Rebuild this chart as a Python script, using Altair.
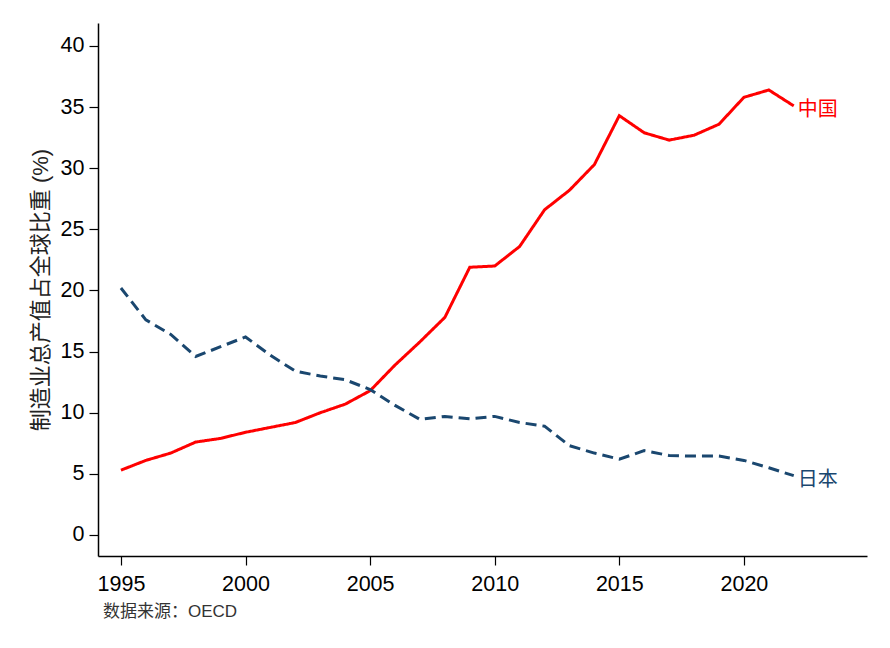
import altair as alt
import pandas as pd

years = list(range(1995, 2023))

china = [5.3, 6.1, 6.7, 7.6, 7.9, 8.4, 8.8, 9.2, 10.0, 10.7,
         11.8, 13.9, 15.8, 17.8, 21.9, 22.0, 23.6, 26.6, 28.2, 30.3,
         34.3, 32.9, 32.3, 32.7, 33.6, 35.8, 36.4, 35.1]

japan = [20.2, 17.6, 16.4, 14.6, 15.4, 16.2, 14.7, 13.4, 13.0, 12.7,
         11.9, 10.6, 9.45, 9.7, 9.5, 9.7, 9.2, 8.9, 7.3, 6.7,
         6.2, 6.9, 6.5, 6.45, 6.45, 6.1, 5.5, 4.85]

countries = ["中国", "日本"]
colors = ["#ff0000", "#1a476f"]

df = pd.DataFrame({
    "year": years * 2,
    "share": china + japan,
    "country": [countries[0]] * len(years) + [countries[1]] * len(years),
})
last = df[df["year"] == years[-1]]

font = "Liberation Sans"
cjk = "Noto Sans CJK SC"
mixed = "Liberation Sans, Noto Sans CJK SC"

x = alt.X("year:Q",
          scale=alt.Scale(domain=[1994.08, 2024.94], nice=False, zero=False),
          axis=alt.Axis(values=[1995, 2000, 2005, 2010, 2015, 2020], format="d",
                        title=None, grid=False, domainColor="black", tickColor="black",
                        tickSize=9, labelPadding=8, labelFontSize=21.5, labelFont=font,
                        labelColor="black", domainWidth=1.5, tickWidth=1.2))
y = alt.Y("share:Q",
          scale=alt.Scale(domain=[-1.72, 41.88], nice=False, zero=False),
          axis=alt.Axis(values=list(range(0, 41, 5)), title="制造业总产值占全球比重 (%)",
                        titleFont=mixed, titleFontSize=22, titleFontWeight="normal",
                        titleColor="#222222", titlePadding=8,
                        grid=False, domainColor="black", tickColor="black",
                        tickSize=9, labelPadding=5, labelFontSize=21.5, labelFont=font,
                        labelColor="black", domainWidth=1.5, tickWidth=1.2))
color = alt.Color("country:N", scale=alt.Scale(domain=countries, range=colors), legend=None)

lines = alt.Chart(df).mark_line(strokeWidth=3).encode(
    x=x, y=y, color=color,
    strokeDash=alt.StrokeDash("country:N",
                              scale=alt.Scale(domain=countries, range=[[1, 0], [11, 6]]),
                              legend=None),
)

labels = alt.Chart(last).mark_text(align="left", baseline="middle", dx=4, dy=4,
                                   fontSize=20, font=cjk).encode(
    x=x, y=y, text="country:N", color=color,
)

chart = alt.layer(lines, labels).properties(
    width=769,
    height=533,
    background="white",
    autosize=alt.AutoSizeParams(type="none"),
    padding={"left": 90, "top": 15, "right": 15, "bottom": 80},
    title=alt.TitleParams("数据来源：OECD", orient="bottom", anchor="start", frame="group",
                          font=mixed, fontSize=17, fontWeight="normal", color="#333333",
                          dx=5, offset=9),
).configure_view(stroke=None)

chart.save("out.html", embed_options={"renderer": "svg", "actions": False})
